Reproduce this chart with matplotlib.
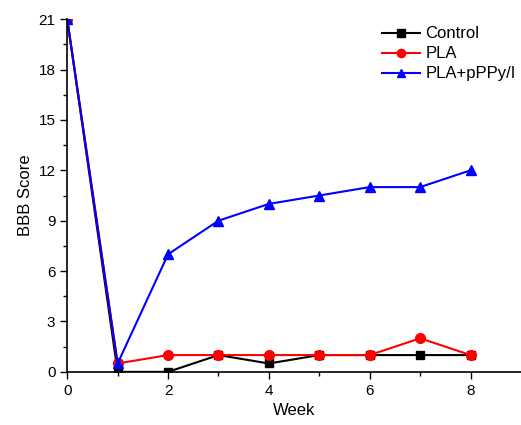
import matplotlib
matplotlib.use('Agg')
import matplotlib.pyplot as plt

plt.rcParams['font.family'] = ['Liberation Sans', 'DejaVu Sans']

weeks = [0, 1, 2, 3, 4, 5, 6, 7, 8]
control = [21, 0, 0, 1, 0.5, 1, 1, 1, 1]
pla = [21, 0.5, 1, 1, 1, 1, 1, 2, 1]
pla_ppy = [21, 0.5, 7, 9, 10, 10.5, 11, 11, 12]

fig = plt.figure(figsize=(5.21, 4.25), dpi=100)
ax = fig.add_axes([0.129, 0.125, 0.871, 0.830])

ax.plot(weeks, control, color='black', marker='s', markersize=6, lw=1.5, label='Control')
ax.plot(weeks, pla, color='red', marker='o', markersize=7, lw=1.5, label='PLA')
ax.plot(weeks, pla_ppy, color='blue', marker='^', markersize=7, lw=1.5, label='PLA+pPPy/I')

ax.set_xlim(0, 9)
ax.set_ylim(0, 21)
ax.set_xticks([0, 2, 4, 6, 8])
ax.set_xticks(range(0, 9), minor=True)
ax.set_yticks([0, 3, 6, 9, 12, 15, 18, 21])
ax.set_yticks([x * 1.5 for x in range(15)], minor=True)
ax.tick_params(direction='out', length=5, width=1, labelsize=11)
ax.tick_params(which='minor', direction='out', length=3, width=1)

for s in ['top', 'right']:
    ax.spines[s].set_visible(False)
for s in ['left', 'bottom']:
    ax.spines[s].set_linewidth(1.2)

ax.set_xlabel('Week', fontsize=12)
ax.set_ylabel('BBB Score', fontsize=12)

fig.legend(*ax.get_legend_handles_labels(), loc='upper left', bbox_to_anchor=(0.733, 0.938),
           frameon=False, fontsize=12, borderpad=0, borderaxespad=0, markerscale=0.85,
           handlelength=2.3, handletextpad=0.3, labelspacing=0.3)

plt.savefig('out.png', dpi=100)
plt.close(fig)
